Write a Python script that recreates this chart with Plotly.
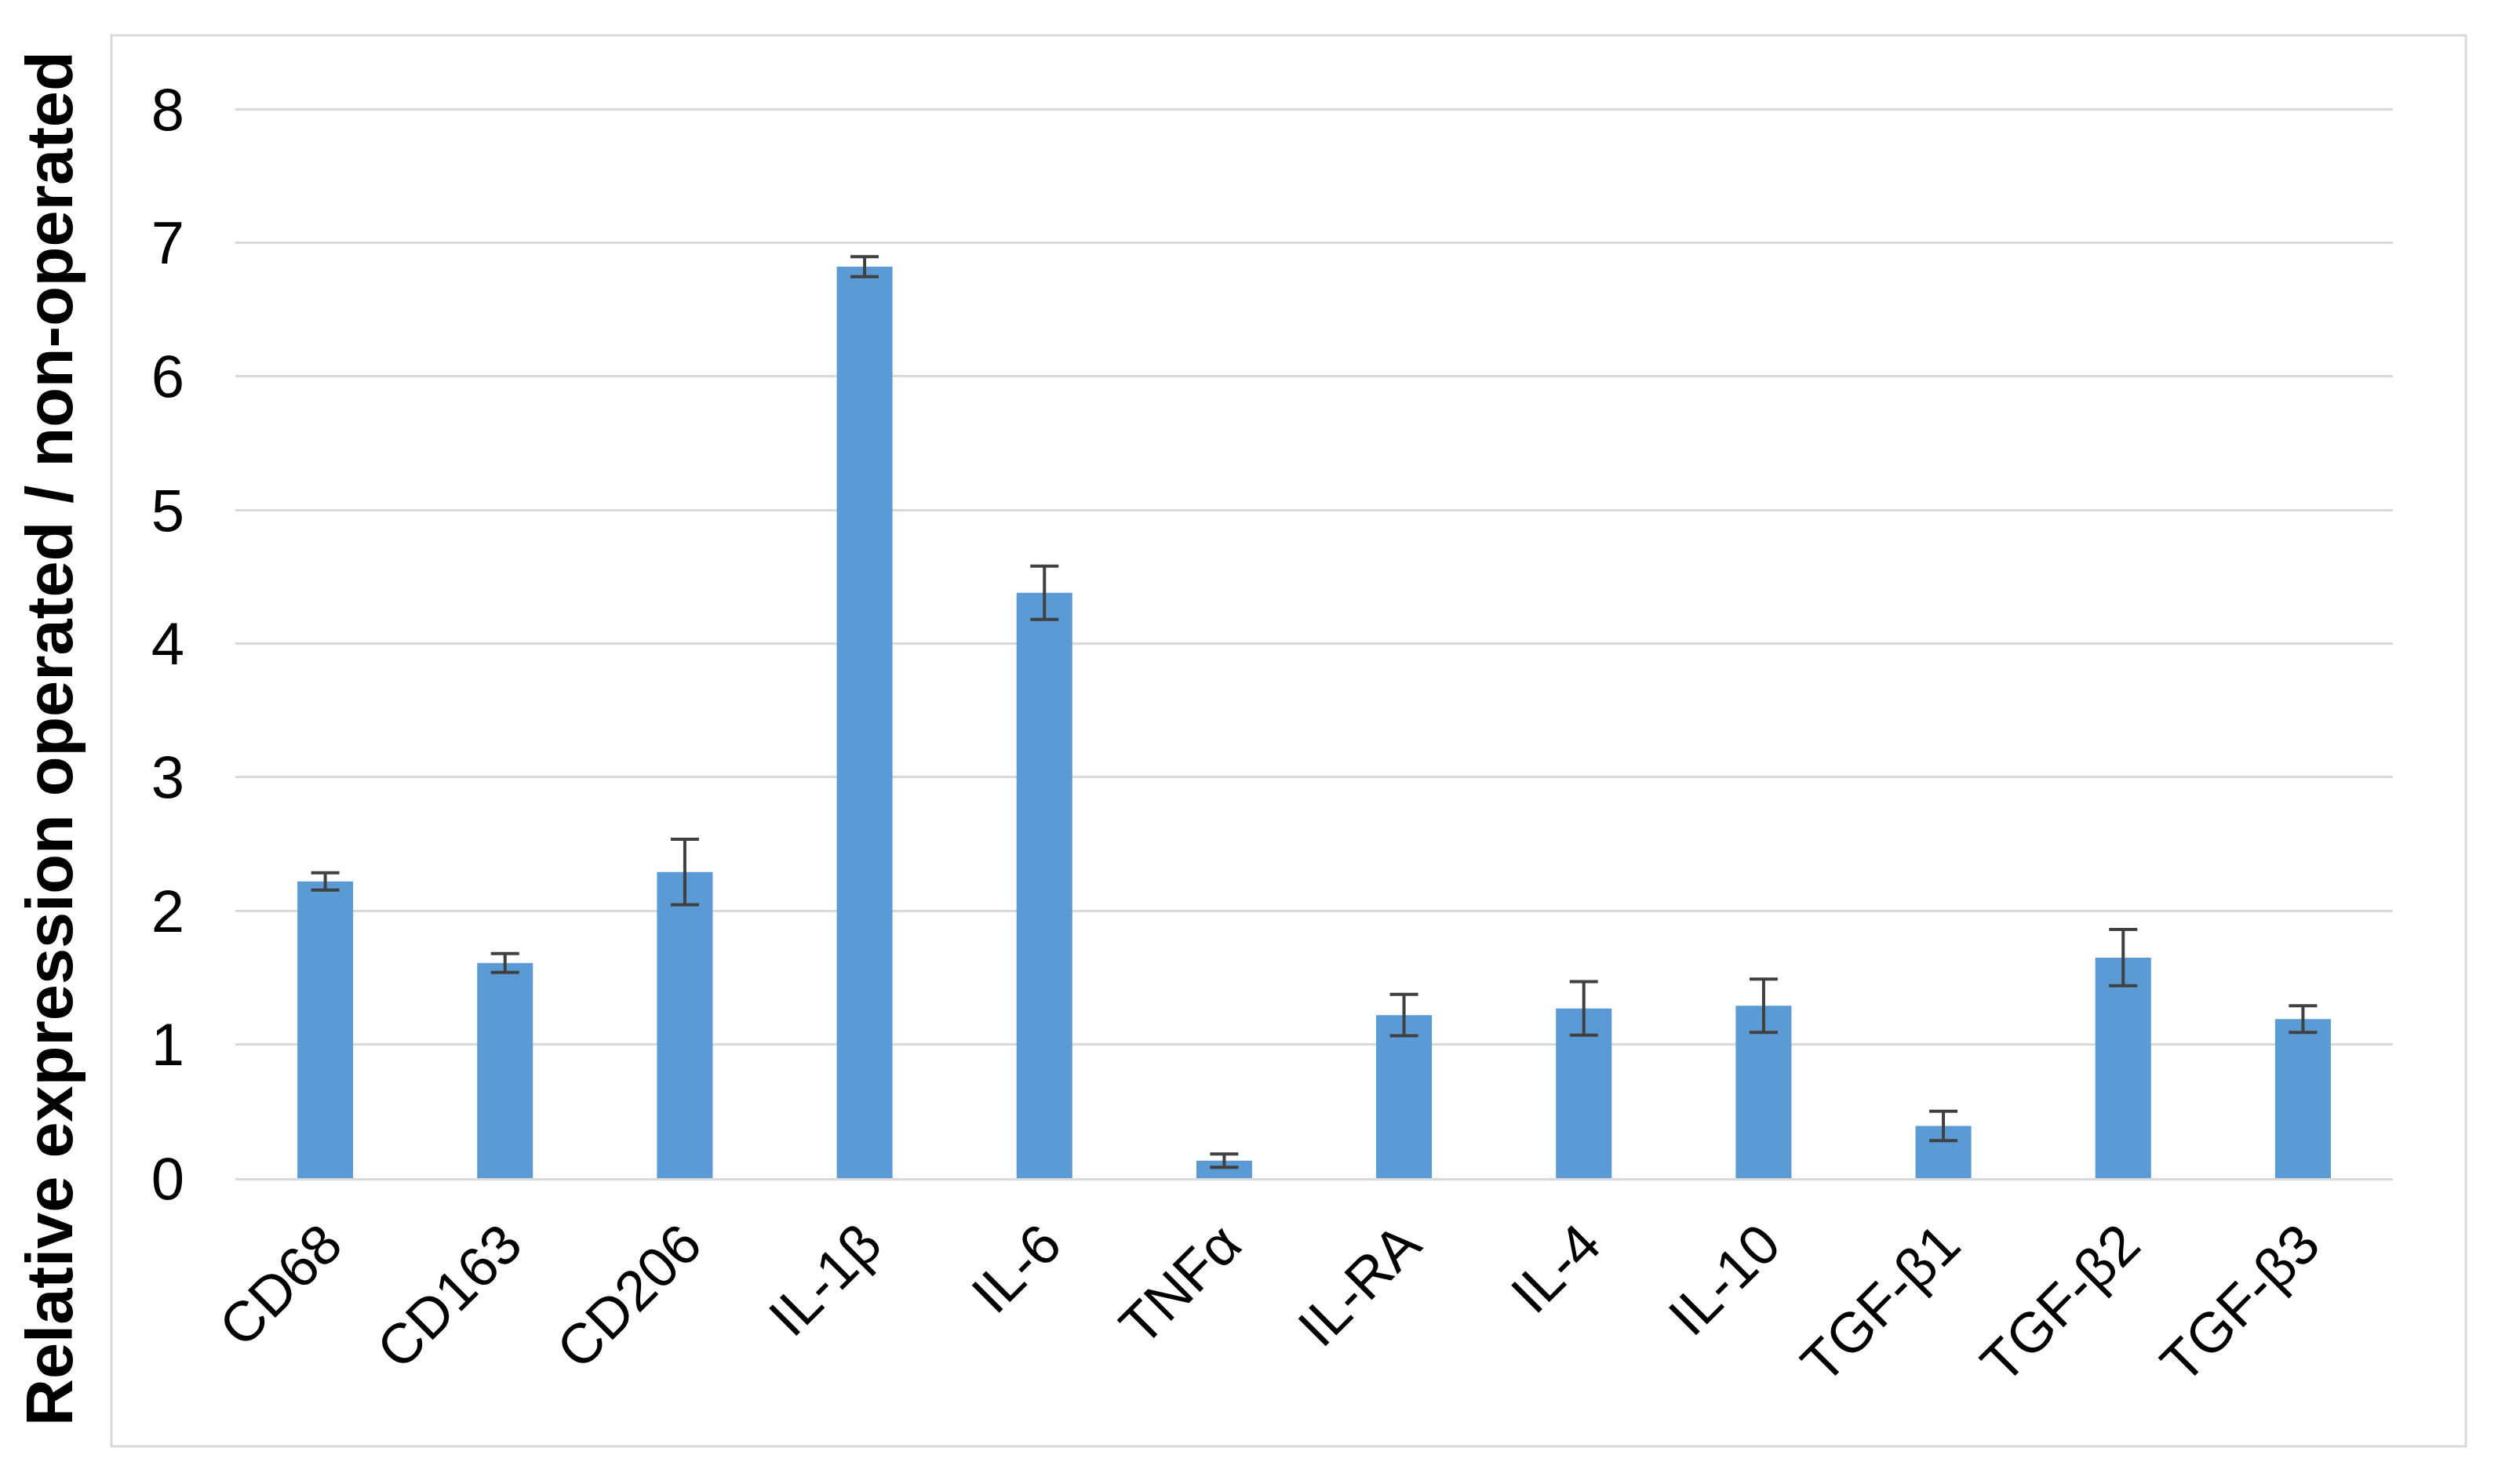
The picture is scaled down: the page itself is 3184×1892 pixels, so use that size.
import plotly.graph_objects as go

categories = ["CD68", "CD163", "CD206", "IL-1β", "IL-6", "TNFα",
              "IL-RA", "IL-4", "IL-10", "TGF-β1", "TGF-β2", "TGF-β3"]
values = [2.22, 1.61, 2.29, 6.82, 4.38, 0.13, 1.22, 1.27, 1.29, 0.39, 1.65, 1.19]
errors = [0.065, 0.07, 0.245, 0.075, 0.20, 0.05, 0.155, 0.20, 0.20, 0.11, 0.21, 0.10]
y_ticks = [0, 1, 2, 3, 4, 5, 6, 7, 8]
y_title = "Relative expression operated / non-operated"

W, H = 3184, 1892
OFF = 8  # default body margin of the html page
L, R, T, B = 300 - OFF, 134 + OFF, 137 - OFF, 390 + OFF
pw, ph = W - L - R, H - T - B

def px_to_paper(x, y):
    # x, y are screen pixels in the reference
    x -= OFF
    y -= OFF
    return (x - L) / pw, (H - B - y) / ph

FONT = "Arial, Liberation Sans, sans-serif"

fig = go.Figure()
fig.add_trace(go.Bar(
    x=categories, y=values,
    marker=dict(color="#5B9BD5", line=dict(width=0)),
    width=0.31,
    error_y=dict(type="data", array=errors, symmetric=True,
                 color="#404040", thickness=4, width=18),
))

x0, y0 = px_to_paper(142, 45)
x1, y1 = px_to_paper(3143, 1844)
tx, ty = px_to_paper(63, 942)

fig.update_layout(
    width=W, height=H,
    margin=dict(l=L, r=R, t=T, b=B, pad=0),
    paper_bgcolor="white", plot_bgcolor="white",
    showlegend=False,
    font=dict(family=FONT, color="black", size=72),
    xaxis=dict(
        type="category", tickangle=-45,
        tickfont=dict(size=72, family=FONT, color="black"),
        showgrid=False, showline=True, linecolor="#D9D9D9", linewidth=3,
        ticks="", ticklabelstandoff=10, range=[-0.5, 11.5],
    ),
    yaxis=dict(
        range=[0, 8.012], tickvals=y_ticks, ticktext=[str(v) for v in y_ticks],
        tickfont=dict(size=76, family=FONT, color="black"),
        showgrid=True, gridcolor="#D9D9D9", gridwidth=3,
        zeroline=False, showline=False, ticks="", ticklabelstandoff=64,
    ),
    shapes=[dict(type="rect", xref="paper", yref="paper",
                 x0=x0, y0=y0, x1=x1, y1=y1,
                 line=dict(color="#D9D9D9", width=3), fillcolor="rgba(0,0,0,0)",
                 layer="below")],
    annotations=[dict(text="<b>" + y_title + "</b>", xref="paper", yref="paper",
                      x=tx, y=ty, xanchor="center", yanchor="middle",
                      textangle=-90, showarrow=False,
                      font=dict(size=83, family=FONT, color="black"))],
)

fig.write_html("out.html")
